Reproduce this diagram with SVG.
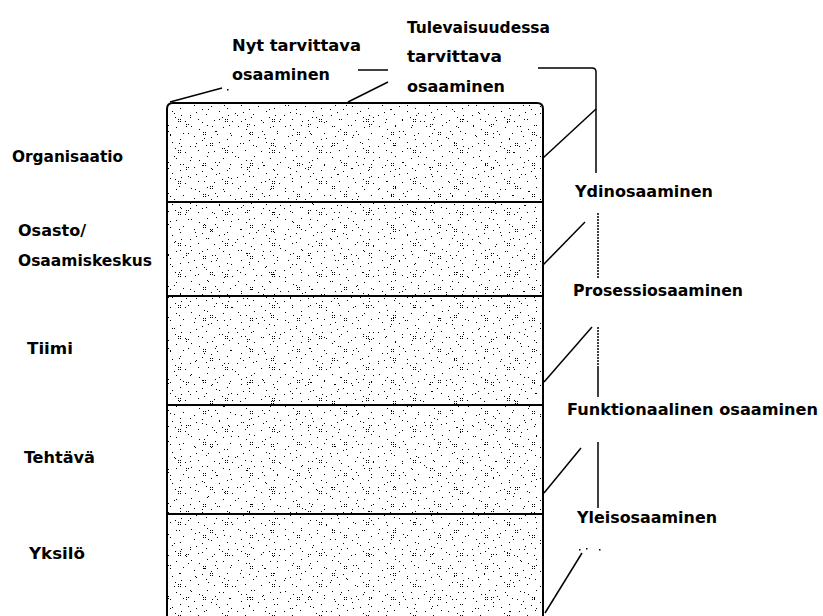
<svg xmlns="http://www.w3.org/2000/svg" width="823" height="616" viewBox="0 0 823 616">
<style>
.t{font-family:"DejaVu Sans Condensed","DejaVu Sans","Liberation Sans",sans-serif;font-weight:bold;font-size:16.5px;fill:#000}
.ln{stroke:#000;stroke-width:1.5;fill:none}
.dl{stroke:#000;stroke-width:1.5;fill:none;stroke-dasharray:2 1}
.div{stroke:#000;stroke-width:2}
</style>
<defs>
<pattern id="pa" width="47" height="31" patternUnits="userSpaceOnUse">
<g fill="#000">
<rect x="3" y="2" width="1" height="1"/><rect x="11" y="5" width="1" height="1"/><rect x="19" y="1" width="1" height="1"/><rect x="27" y="7" width="1" height="1"/><rect x="35" y="3" width="1" height="1"/><rect x="42" y="9" width="1" height="1"/><rect x="6" y="12" width="1" height="1"/><rect x="14" y="16" width="1" height="1"/><rect x="23" y="13" width="1" height="1"/><rect x="31" y="18" width="1" height="1"/><rect x="39" y="15" width="1" height="1"/><rect x="2" y="22" width="1" height="1"/><rect x="10" y="26" width="1" height="1"/><rect x="18" y="21" width="1" height="1"/><rect x="26" y="27" width="1" height="1"/><rect x="34" y="24" width="1" height="1"/><rect x="44" y="28" width="1" height="1"/><rect x="8" y="19" width="1" height="1"/><rect x="29" y="10" width="1" height="1"/><rect x="40" y="22" width="1" height="1"/>
<rect x="15" y="8" width="1" height="1"/><rect x="17" y="8" width="1" height="1"/><rect x="15" y="10" width="1" height="1"/><rect x="17" y="10" width="1" height="1"/>
<rect x="37" y="26" width="1" height="1"/><rect x="39" y="26" width="1" height="1"/><rect x="37" y="28" width="1" height="1"/><rect x="39" y="28" width="1" height="1"/>
</g>
</pattern>
<pattern id="pb" width="61" height="43" patternUnits="userSpaceOnUse">
<g fill="#000">
<rect x="5" y="4" width="1" height="1"/><rect x="21" y="9" width="1" height="1"/><rect x="33" y="2" width="1" height="1"/><rect x="48" y="6" width="1" height="1"/><rect x="57" y="14" width="1" height="1"/><rect x="12" y="17" width="1" height="1"/><rect x="25" y="23" width="1" height="1"/><rect x="41" y="19" width="1" height="1"/><rect x="52" y="27" width="1" height="1"/><rect x="7" y="31" width="1" height="1"/><rect x="19" y="36" width="1" height="1"/><rect x="36" y="33" width="1" height="1"/><rect x="46" y="39" width="1" height="1"/><rect x="58" y="35" width="1" height="1"/><rect x="29" y="40" width="1" height="1"/>
<rect x="27" y="14" width="1" height="1"/><rect x="29" y="14" width="1" height="1"/><rect x="27" y="16" width="1" height="1"/><rect x="29" y="16" width="1" height="1"/>
<rect x="3" y="38" width="1" height="1"/><rect x="5" y="38" width="1" height="1"/><rect x="3" y="40" width="1" height="1"/>
</g>
</pattern>
</defs>

<g id="box">
<path d="M167,625 V109 Q167,103 173,103 H537 Q543,103 543,109 V625" fill="#fff" stroke="none"/>
<rect x="168" y="104" width="374" height="520" fill="url(#pa)"/>
<rect x="168" y="104" width="374" height="520" fill="url(#pb)"/>
<path d="M167,625 V109 Q167,103 173,103 H537 Q543,103 543,109 V625" fill="none" stroke="#000" stroke-width="2"/>
<line class="div" x1="167" y1="202" x2="543" y2="202"/>
<line class="div" x1="167" y1="296" x2="543" y2="296"/>
<line class="div" x1="167" y1="405" x2="543" y2="405"/>
<line class="div" x1="167" y1="514" x2="543" y2="514"/>
</g>

<g id="level-labels">
<text class="t" x="12" y="162" textLength="111" lengthAdjust="spacingAndGlyphs">Organisaatio</text>
<text class="t" x="18" y="236" textLength="68" lengthAdjust="spacingAndGlyphs">Osasto/</text>
<text class="t" x="18" y="266" textLength="134" lengthAdjust="spacingAndGlyphs">Osaamiskeskus</text>
<text class="t" x="27" y="354" textLength="46" lengthAdjust="spacingAndGlyphs">Tiimi</text>
<text class="t" x="24" y="463" textLength="71" lengthAdjust="spacingAndGlyphs">Tehtävä</text>
<text class="t" x="29" y="559" textLength="56" lengthAdjust="spacingAndGlyphs">Yksilö</text>
</g>

<g id="top-labels">
<text class="t" x="232" y="51" textLength="129" lengthAdjust="spacingAndGlyphs">Nyt tarvittava</text>
<text class="t" x="232" y="80" textLength="98" lengthAdjust="spacingAndGlyphs">osaaminen</text>
<text class="t" x="407" y="33" textLength="143" lengthAdjust="spacingAndGlyphs">Tulevaisuudessa</text>
<text class="t" x="407" y="62" textLength="95" lengthAdjust="spacingAndGlyphs">tarvittava</text>
<text class="t" x="407" y="92" textLength="98" lengthAdjust="spacingAndGlyphs">osaaminen</text>
</g>

<g id="competence-labels">
<text class="t" x="575" y="197" textLength="138" lengthAdjust="spacingAndGlyphs">Ydinosaaminen</text>
<text class="t" x="573" y="296" textLength="170" lengthAdjust="spacingAndGlyphs">Prosessiosaaminen</text>
<text class="t" x="567" y="415" textLength="251" lengthAdjust="spacingAndGlyphs">Funktionaalinen osaaminen</text>
<text class="t" x="577" y="523" textLength="140" lengthAdjust="spacingAndGlyphs">Yleisosaaminen</text>
</g>

<g id="connectors">
<line class="ln" x1="170" y1="102" x2="222" y2="88"/>
<rect x="227" y="89" width="1.5" height="1.5"/>
<line class="ln" x1="348" y1="102" x2="388" y2="82"/>
<line class="ln" x1="358" y1="70" x2="388" y2="70"/>
<path class="ln" d="M538,68 H592 Q596,68 596,72 V173"/>
<line class="ln" x1="596" y1="109" x2="543" y2="158"/>
<line class="dl" x1="598" y1="213" x2="598" y2="278"/>
<line class="ln" x1="585" y1="222" x2="543" y2="265"/>
<line class="dl" x1="598" y1="327" x2="598" y2="367"/>
<line class="ln" x1="598" y1="367" x2="598" y2="397"/>
<line class="ln" x1="592" y1="327" x2="544" y2="382"/>
<line class="ln" x1="598" y1="442" x2="598" y2="508"/>
<line class="ln" x1="581" y1="448" x2="544" y2="493"/>
<line class="ln" x1="582" y1="553" x2="545" y2="613"/>
<rect x="579" y="549" width="1.5" height="1.5"/><rect x="586" y="548" width="1.5" height="1.5"/><rect x="599" y="549" width="1.5" height="1.5"/>
</g>
</svg>
